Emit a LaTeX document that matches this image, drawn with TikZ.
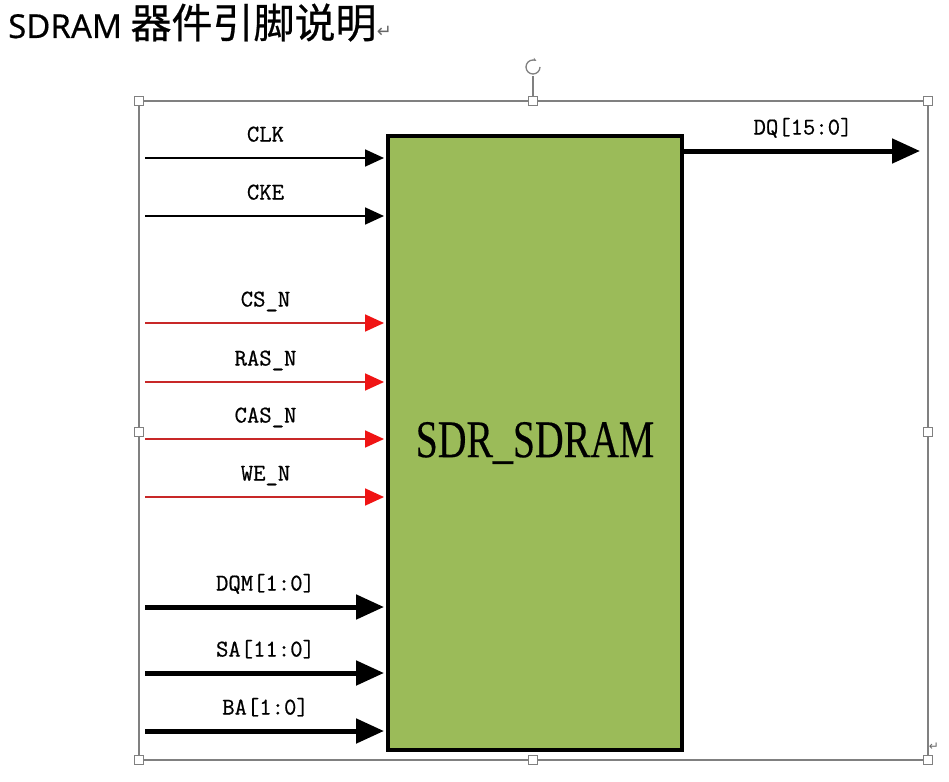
\documentclass[tikz,border=0pt]{standalone}
\usepackage{fontspec}
\usepackage{graphicx}
\setmainfont[FakeBold=0.4]{Liberation Serif}
\setmonofont[FakeBold=0.7]{Latin Modern Mono}
\newfontfamily\titlefont[FakeBold=0.4]{Noto Sans}
\newfontfamily\cjk[FakeBold=0.6]{Noto Sans CJK SC}
\newfontfamily\symb{DejaVu Sans}
\usetikzlibrary{arrows.meta,positioning}

\definecolor{chipgreen}{RGB}{155,187,89}
\definecolor{ctrlred}{RGB}{200,40,40}
\definecolor{headred}{RGB}{240,20,20}
\definecolor{framegray}{RGB}{128,128,128}

\def\pinx{145}
\newcommand{\sig}[1]{{\fontsize{24}{24}\selectfont\ttfamily #1}}

\begin{document}
\begin{tikzpicture}[x=1pt,y=-1pt]
    \tikzstyle{handle}=[rectangle,draw=framegray,fill=white,minimum size=9pt,inner sep=0pt,line width=1pt]
    \tikzstyle{chip}=[rectangle,draw=black,fill=chipgreen,line width=4pt,minimum width=294pt,minimum height=614pt,inner sep=0pt]
    \tikzstyle{wire}=[-{Triangle[length=19pt,width=17pt]},line width=1.8pt,shorten >=2pt]
    \tikzstyle{ctrl}=[-{Triangle[length=19pt,width=17pt,color=headred]},line width=1.8pt,draw=ctrlred,shorten >=2pt]
    \tikzstyle{bus}=[-{Triangle[length=28pt,width=24pt]},line width=5pt,shorten >=2pt]
    \tikzstyle{lbl}=[anchor=base,yshift=16.5pt,inner sep=0pt]

    \useasboundingbox (0,0) rectangle (949,781);

    %%% TITLE
    \node[anchor=base west,inner sep=0pt] (title) at (8,38) {\fontsize{33}{33}\titlefont SDRAM \fontsize{41}{41}\cjk 器件引脚说明};
    \node[anchor=base west,inner sep=0pt,text=black!60] (ret) at (title.base east) {\fontsize{18}{18}\symb ↵};

    %%% FRAME
    \draw[framegray,line width=1.3pt] (139,101) rectangle (928,760);
    \coordinate (rot) at (533,67);
    \draw[framegray,line width=1.3pt] (533,101) -- (533,76);
    \draw[framegray,line width=1.3pt,-{Stealth[length=4pt]}] (rot) ++(7,0) arc[start angle=0,end angle=300,radius=7];
    \foreach \px/\py [count=\i] in {139/101,533/101,928/101,139/432,928/432,139/760,533/760,928/760}
        \node[handle] (h-\i) at (\px,\py) {};
    \node[inner sep=0pt,text=black!60] (endmark) at (934,747) {\fontsize{12}{12}\symb ↵};

    %%% CHIP
    \node[chip] (chip) at (535,443) {\scalebox{0.75}[1]{\fontsize{53}{53}\selectfont SDR\_SDRAM}};

    %%% PINS
    \foreach \name/\y [count=\i] in {CLK/158,CKE/216}
    {
        \coordinate (clk-\i) at (\pinx,\y);
        \draw[wire] (clk-\i) -- (clk-\i -| chip.west) node[midway,lbl] {\sig{\name}};
    }
    \foreach \name/\y [count=\i] in {CS\_N/323,RAS\_N/382,CAS\_N/439,WE\_N/497}
    {
        \coordinate (cmd-\i) at (\pinx,\y);
        \draw[ctrl] (cmd-\i) -- (cmd-\i -| chip.west) node[midway,lbl] {\sig{\name}};
    }
    \foreach \name/\y [count=\i] in {{DQM[1:0]}/607,{SA[11:0]}/673,{BA[1:0]}/731}
    {
        \coordinate (adr-\i) at (\pinx,\y);
        \draw[bus] (adr-\i) -- (adr-\i -| chip.west) node[midway,lbl] {\sig{\name}};
    }
    \coordinate (dq) at (922,151);
    \draw[bus] (dq -| chip.east) -- (dq) node[midway,lbl] {\sig{DQ[15:0]}};

\end{tikzpicture}
\end{document}
